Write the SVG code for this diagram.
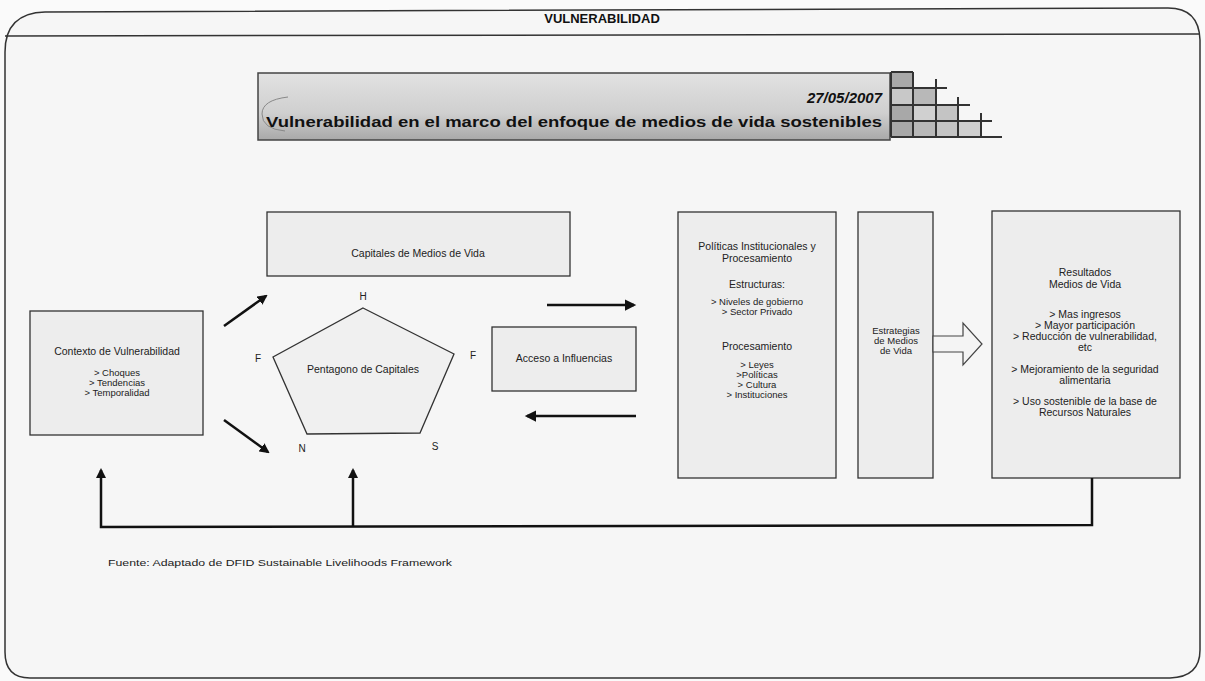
<svg xmlns="http://www.w3.org/2000/svg" width="1205" height="681" viewBox="0 0 1205 681">
<style>
  .box{fill:#ededed;stroke:#333;stroke-width:1.3}
  .t{font-family:"Liberation Sans",Arial,sans-serif;font-size:10.5px;fill:#222;text-anchor:middle}
  .s{font-family:"Liberation Sans",Arial,sans-serif;font-size:9.5px;fill:#222;text-anchor:middle}
  .lbl{font-family:"Liberation Sans",Arial,sans-serif;font-size:10px;fill:#222;text-anchor:middle}
  .conn{fill:none;stroke:#111;stroke-width:2.5}
  .grid{stroke:#333;stroke-width:2;fill:none}
</style>
<defs>
  <marker id="ah" viewBox="0 0 10 10" refX="8" refY="5" markerWidth="4" markerHeight="4" orient="auto">
    <path d="M0,0 L10,5 L0,10 Z" fill="#111"/>
  </marker>
  <marker id="ah2" viewBox="0 0 10 10" refX="8" refY="5" markerWidth="5" markerHeight="4.5" orient="auto">
    <path d="M0,0 L10,5 L0,10 Z" fill="#111"/>
  </marker>
  <linearGradient id="bannerG" x1="0" y1="0" x2="0" y2="1">
    <stop offset="0" stop-color="#e2e2e2"/>
    <stop offset="0.6" stop-color="#cfcfcf"/>
    <stop offset="1" stop-color="#a9a9a9"/>
  </linearGradient>
</defs>
<rect x="0" y="0" width="1205" height="681" fill="#fafafa"/>
<g id="frame">
  <path d="M 5 52 Q 5 13 45 12 L 1168 8 Q 1199 8 1200 40 L 1200 650 Q 1200 677 1170 678 L 30 678 Q 5 678 5 652 Z" fill="#f6f6f6" stroke="#333" stroke-width="1.5"/>
  <line x1="5" y1="36" x2="1200" y2="34" stroke="#333" stroke-width="1.5"/>
  <text x="602" y="23" font-family="'Liberation Sans',Arial,sans-serif" font-size="13" font-weight="bold" text-anchor="middle" fill="#111">VULNERABILIDAD</text>
</g>
<g id="banner">
  <rect x="258" y="73" width="632" height="67" fill="url(#bannerG)" stroke="#444" stroke-width="1.5"/>
  <path d="M 288 97 Q 262 100 262 114 Q 262 129 285 131" fill="none" stroke="#888" stroke-width="1"/>
  <text x="882" y="103" font-family="'Liberation Sans',Arial,sans-serif" font-size="15" font-weight="bold" font-style="italic" text-anchor="end" fill="#111">27/05/2007</text>
  <text x="266" y="127" font-family="'Liberation Sans',Arial,sans-serif" font-size="15" font-weight="bold" fill="#111" textLength="616" lengthAdjust="spacingAndGlyphs">Vulnerabilidad en el marco del enfoque de medios de vida sostenibles</text>
  <rect x="891" y="72" width="22" height="65" fill="#a8a8a8"/>
  <rect x="913" y="88" width="23" height="49" fill="#b8b8b8"/>
  <rect x="936" y="105" width="22" height="32" fill="#c4c4c4"/>
  <rect x="958" y="121" width="23" height="16" fill="#cfcfcf"/>
  <rect x="891" y="88" width="22" height="17" fill="#c8c8c8"/>
  <rect x="913" y="105" width="23" height="16" fill="#d0d0d0"/>
  <path class="grid" d="M 891 72 L 913 72 M 891 88 L 947 88 M 891 105 L 970 105 M 891 121 L 992 121 M 891 137 L 1002 137 M 891 72 L 891 137 M 913 72 L 913 137 M 936 79 L 936 137 M 958 97 L 958 137 M 981 113 L 981 137"/>
</g>
<g id="contexto">
  <rect class="box" x="30" y="311" width="173" height="124"/>
  <text class="t" x="117" y="355">Contexto de Vulnerabilidad</text>
  <text class="s" x="117" y="376">&gt; Choques</text>
  <text class="s" x="117" y="386">&gt; Tendencias</text>
  <text class="s" x="117" y="396">&gt; Temporalidad</text>
</g>
<g id="capitales">
  <rect class="box" x="267" y="212" width="303" height="64"/>
  <text class="t" x="418" y="257">Capitales de Medios de Vida</text>
</g>
<g id="pentagono">
  <polygon points="363,308 454,354 420,433 307,434 273,357" fill="#f0f0f0" stroke="#333" stroke-width="1.3"/>
  <text class="t" x="363" y="373">Pentagono de Capitales</text>
  <text class="lbl" x="363" y="300">H</text>
  <text class="lbl" x="258" y="362">F</text>
  <text class="lbl" x="473" y="359">F</text>
  <text class="lbl" x="302" y="452">N</text>
  <text class="lbl" x="435" y="450">S</text>
</g>
<g id="acceso">
  <rect class="box" x="492" y="327" width="144" height="64"/>
  <text class="t" x="564" y="362">Acceso a Influencias</text>
</g>
<g id="politicas">
  <rect class="box" x="678" y="212" width="158" height="266"/>
  <text class="t" x="757" y="250">Políticas Institucionales y</text>
  <text class="t" x="757" y="262">Procesamiento</text>
  <text class="t" x="757" y="288">Estructuras:</text>
  <text class="s" x="757" y="305">&gt; Niveles de gobierno</text>
  <text class="s" x="757" y="315">&gt; Sector Privado</text>
  <text class="t" x="757" y="350">Procesamiento</text>
  <text class="s" x="757" y="368">&gt; Leyes</text>
  <text class="s" x="757" y="378">&gt;Políticas</text>
  <text class="s" x="757" y="388">&gt; Cultura</text>
  <text class="s" x="757" y="398">&gt; Instituciones</text>
</g>
<g id="estrategias">
  <rect class="box" x="858" y="212" width="75" height="266"/>
  <text class="s" x="896" y="334">Estrategias</text>
  <text class="s" x="896" y="344">de Medios</text>
  <text class="s" x="896" y="354">de Vida</text>
</g>
<g id="resultados">
  <rect class="box" x="992" y="211" width="188" height="267"/>
  <text class="t" x="1085" y="276">Resultados</text>
  <text class="t" x="1085" y="288">Medios de Vida</text>
  <text class="t" x="1085" y="318">&gt; Mas ingresos</text>
  <text class="t" x="1085" y="329">&gt; Mayor participación</text>
  <text class="t" x="1085" y="340">&gt; Reducción de vulnerabilidad,</text>
  <text class="t" x="1085" y="351">etc</text>
  <text class="t" x="1085" y="373">&gt; Mejoramiento de la seguridad</text>
  <text class="t" x="1085" y="384">alimentaria</text>
  <text class="t" x="1085" y="405">&gt; Uso sostenible de la base de</text>
  <text class="t" x="1085" y="416">Recursos Naturales</text>
</g>
<g id="connectors">
  <line class="conn" x1="224" y1="326" x2="266" y2="296" marker-end="url(#ah)"/>
  <line class="conn" x1="224" y1="420" x2="268" y2="452" marker-end="url(#ah)"/>
  <line class="conn" stroke-width="2" x1="547" y1="305" x2="634" y2="305" marker-end="url(#ah2)"/>
  <line class="conn" stroke-width="2" x1="636" y1="416" x2="527" y2="416" marker-end="url(#ah2)"/>
  <polygon points="933,336 963,336 963,323 982,344 963,365 963,352 933,352" fill="#f4f4f4" stroke="#444" stroke-width="1.2"/>
  <polyline class="conn" points="1092,478 1092,525 101,527 101,470" marker-end="url(#ah)"/>
  <line class="conn" x1="353" y1="526" x2="353" y2="470" marker-end="url(#ah)"/>
</g>
<text x="108" y="566" font-family="'Liberation Sans',Arial,sans-serif" font-size="9" fill="#222" textLength="344" lengthAdjust="spacingAndGlyphs">Fuente: Adaptado de DFID Sustainable Livelihoods Framework</text>
</svg>
